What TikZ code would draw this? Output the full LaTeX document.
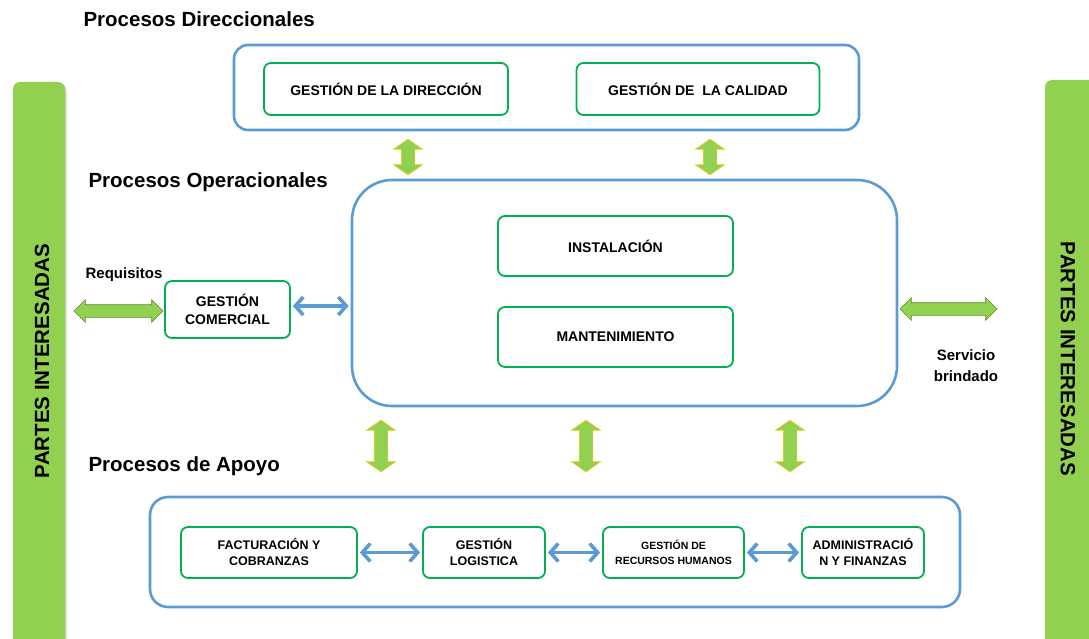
\documentclass[tikz,border=0pt]{standalone}
\usepackage{fontspec}
\setmainfont{Liberation Sans}
\usetikzlibrary{shapes.arrows,arrows.meta,shadows}

\definecolor{azul}{HTML}{5B9BD5}
\definecolor{verde}{HTML}{00B050}
\definecolor{lima}{HTML}{92D050}
\definecolor{borde}{HTML}{5E8A2E}
\definecolor{oro}{HTML}{F2D232}

\tikzset{
  bigbox/.style={draw=azul, line width=2.6pt, rounded corners=14pt},
  procbox/.style={draw=verde, line width=1.8pt, rounded corners=7pt, fill=white,
    align=center, font=\bfseries\fontsize{14}{18}\selectfont},
  smallbox/.style={procbox, font=\bfseries\fontsize{12.5}{16}\selectfont},
  title/.style={anchor=west, font=\bfseries\fontsize{20.5}{22}\selectfont},
  label/.style={font=\bfseries\fontsize{15}{21}\selectfont, align=center},
  fathoriz/.style={double arrow, fill=lima, draw=borde, line width=0.6pt,
    inner xsep=0pt, inner ysep=6pt, double arrow head extend=5pt},
  fatvert/.style={double arrow, fill=lima, draw=oro, line width=0.6pt, inner sep=6.5pt,
    double arrow head extend=8pt, double arrow tip angle=110,
    shape border rotate=90},
  bluearrow/.style={{Straight Barb[length=8pt,width=18pt]}-{Straight Barb[length=8pt,width=18pt]},
    draw=azul, line width=3.6pt, shorten <=2pt, shorten >=2pt},
  sidebar/.style={fill=lima, rounded corners=7pt, drop shadow={shadow xshift=1.5pt,
    shadow yshift=-1.5pt, opacity=0.35}}
}

\begin{document}
\begin{tikzpicture}[x=1pt,y=-1pt]
  \useasboundingbox (0,0) rectangle (1089,639);

  % side bars
  \begin{scope}
    \clip (0,0) rectangle (1089,639);
    \fill[sidebar] (13,82) rectangle (65,660);
    \fill[sidebar] (1045,80) rectangle (1100,660);
  \end{scope}
  \node(partes-izq)[rotate=90, font=\bfseries\fontsize{20.5}{22}\selectfont] at (42,361) {PARTES INTERESADAS};
  \node(partes-der)[rotate=-90, font=\bfseries\fontsize{20.5}{22}\selectfont] at (1068,359) {PARTES INTERESADAS};

  % direccionales
  \node(tit-dir)[title] at (80,19) {Procesos Direccionales};
  \draw[bigbox] (234,45) rectangle (859,130);
  \node(direccion)[procbox, minimum width=244pt, minimum height=52pt] at (386,89) {GESTIÓN DE LA DIRECCIÓN};
  \node(calidad)[procbox, minimum width=243pt, minimum height=52pt] at (698,89) {GESTIÓN DE \ LA CALIDAD};

  \node(fv-1)[fatvert, minimum height=36pt] at (408,157) {};
  \node(fv-2)[fatvert, minimum height=36pt] at (710,157) {};

  % operacionales
  \node(tit-op)[title] at (85,182) {Procesos Operacionales};
  \node(oper)[draw=azul, line width=2.6pt, rounded corners=40pt,
    minimum width=545pt, minimum height=226pt] at (624.5,293) {};
  \node(instal)[procbox, minimum width=235pt, minimum height=60pt] at (615.5,246) {INSTALACIÓN};
  \node(mante)[procbox, minimum width=235pt, minimum height=60pt] at (615.5,337) {MANTENIMIENTO};

  \node(comercial)[procbox, minimum width=125pt, minimum height=57pt] at (227.5,309.5) {GESTIÓN\\COMERCIAL};
  \node(requisitos)[label] at (124,275) {Requisitos};
  \node(fh-izq)[fathoriz, minimum height=89pt] at (118.5,311) {};
  \node(fh-der)[fathoriz, minimum height=97pt] at (948.5,309) {};
  \node(servicio)[label] at (966,366) {Servicio\\brindado};

  \draw[bluearrow] (comercial.east |- 0,306) -- (oper.west |- 0,306);

  \node(fv-3)[fatvert, minimum height=52pt] at (381,446) {};
  \node(fv-4)[fatvert, minimum height=52pt] at (586,446) {};
  \node(fv-5)[fatvert, minimum height=52pt] at (790,446) {};

  % apoyo
  \node(tit-apoyo)[title] at (85,466) {Procesos de Apoyo};
  \draw[bigbox, rounded corners=18pt] (150,497) rectangle (960,607);
  \node(factura)[smallbox, minimum width=176pt, minimum height=51pt] at (269,552.5) {FACTURACIÓN Y\\COBRANZAS};
  \node(logistica)[smallbox, minimum width=122pt, minimum height=51pt] at (484,552.5) {GESTIÓN\\LOGISTICA};
  \node(rrhh)[smallbox, minimum width=141pt, minimum height=51pt, font=\bfseries\fontsize{10.5}{15}\selectfont] at (673.5,552.5) {GESTIÓN DE\\RECURSOS HUMANOS};
  \node(admin)[smallbox, minimum width=122pt, minimum height=51pt] at (863,552.5) {ADMINISTRACIÓ\\N Y FINANZAS};

  \draw[bluearrow] (factura) -- (logistica);
  \draw[bluearrow] (logistica) -- (rrhh);
  \draw[bluearrow] (rrhh) -- (admin);
\end{tikzpicture}
\end{document}
